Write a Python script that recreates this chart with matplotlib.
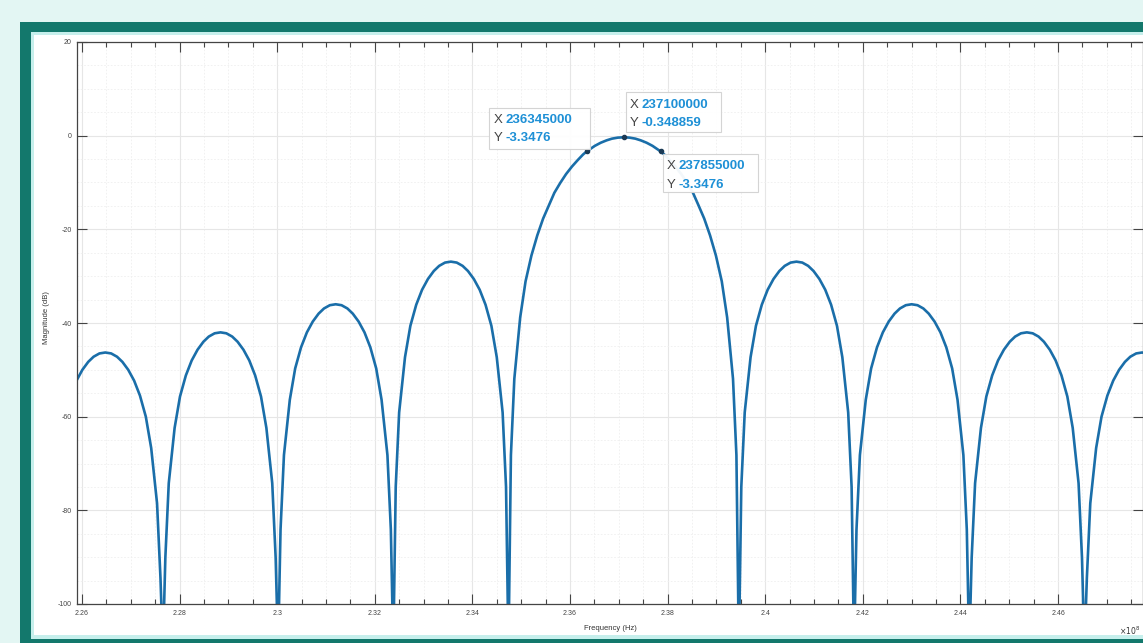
import numpy as np
import matplotlib.pyplot as plt
from matplotlib.patches import Rectangle
from matplotlib.transforms import Affine2D
from matplotlib.ticker import MultipleLocator, FuncFormatter

plt.rcParams['font.family'] = ['Liberation Sans', 'DejaVu Sans']

# trace: frequency in MHz, magnitude in dB (one row per lobe)
freq_mhz = [
    225.65, 225.77, 225.89, 226.01, 226.13, 226.24, 226.36, 226.48, 226.60, 226.72, 226.83, 226.95, 227.07, 227.19, 227.31, 227.42, 227.54, 227.61,
    227.66, 227.71, 227.78, 227.90, 228.01, 228.13, 228.25, 228.37, 228.49, 228.60, 228.72, 228.84, 228.96, 229.08, 229.19, 229.31, 229.43, 229.55, 229.67, 229.78, 229.90, 229.97,
    230.02, 230.07, 230.14, 230.26, 230.37, 230.49, 230.61, 230.73, 230.85, 230.96, 231.08, 231.20, 231.32, 231.44, 231.55, 231.67, 231.79, 231.91, 232.03, 232.14, 232.26, 232.33,
    232.38, 232.43, 232.50, 232.62, 232.73, 232.85, 232.97, 233.09, 233.21, 233.32, 233.44, 233.56, 233.68, 233.80, 233.91, 234.03, 234.15, 234.27, 234.39, 234.50, 234.62, 234.69,
    234.74, 234.79, 234.86, 234.98, 235.09, 235.21, 235.33, 235.45, 235.57, 235.68, 235.80, 235.92, 236.04, 236.16, 236.27, 236.345, 236.51, 236.63, 236.75, 236.86, 236.98,
    237.10,
    237.22, 237.34, 237.45, 237.57, 237.69, 237.855, 237.93, 238.04, 238.16, 238.28, 238.40, 238.52, 238.63, 238.75, 238.87, 238.99, 239.11, 239.22, 239.34, 239.41,
    239.46, 239.51, 239.58, 239.70, 239.81, 239.93, 240.05, 240.17, 240.29, 240.40, 240.52, 240.64, 240.76, 240.88, 240.99, 241.11, 241.23, 241.35, 241.47, 241.58, 241.70, 241.77,
    241.82, 241.87, 241.94, 242.06, 242.17, 242.29, 242.41, 242.53, 242.65, 242.76, 242.88, 243.00, 243.12, 243.24, 243.35, 243.47, 243.59, 243.71, 243.83, 243.94, 244.06, 244.13,
    244.18, 244.23, 244.30, 244.42, 244.53, 244.65, 244.77, 244.89, 245.01, 245.12, 245.24, 245.36, 245.48, 245.60, 245.71, 245.83, 245.95, 246.07, 246.19, 246.30, 246.42, 246.49,
    246.54, 246.59, 246.66, 246.78, 246.89, 247.01, 247.13, 247.25, 247.37, 247.48, 247.60, 247.72, 247.84,
]
mag_db = [
    -60.0, -55.5, -52.3, -50.0, -48.3, -47.2, -46.5, -46.3, -46.5, -47.2, -48.3, -50.0, -52.3, -55.5, -60.0, -66.7, -78.5, -94.4,
    -110, -90.1, -74.2, -62.4, -55.7, -51.2, -48.0, -45.7, -44.0, -42.9, -42.2, -42.0, -42.2, -42.9, -44.0, -45.7, -48.0, -51.2, -55.7, -62.4, -74.2, -90.1,
    -110, -84.1, -68.2, -56.4, -49.7, -45.2, -42.0, -39.7, -38.0, -36.9, -36.2, -36.0, -36.2, -36.9, -38.0, -39.7, -42.0, -45.2, -49.7, -56.4, -68.2, -84.1,
    -110, -75.0, -59.1, -47.3, -40.6, -36.1, -32.9, -30.6, -28.9, -27.8, -27.1, -26.9, -27.1, -27.8, -28.9, -30.6, -32.9, -36.1, -40.6, -47.3, -59.1, -75.0,
    -110, -68.2, -51.9, -38.8, -31.1, -25.6, -21.3, -17.7, -14.8, -12.2, -10.1, -8.2, -6.6, -5.2, -4.0, -3.3476, -2.17, -1.51, -1.00, -0.64, -0.42,
    -0.348859,
    -0.42, -0.64, -1.00, -1.51, -2.17, -3.3476, -4.0, -5.2, -6.6, -8.2, -10.1, -12.2, -14.8, -17.7, -21.3, -25.6, -31.1, -38.8, -51.9, -68.2,
    -110, -75.0, -59.1, -47.3, -40.6, -36.1, -32.9, -30.6, -28.9, -27.8, -27.1, -26.9, -27.1, -27.8, -28.9, -30.6, -32.9, -36.1, -40.6, -47.3, -59.1, -75.0,
    -110, -84.1, -68.2, -56.4, -49.7, -45.2, -42.0, -39.7, -38.0, -36.9, -36.2, -36.0, -36.2, -36.9, -38.0, -39.7, -42.0, -45.2, -49.7, -56.4, -68.2, -84.1,
    -110, -90.1, -74.2, -62.4, -55.7, -51.2, -48.0, -45.7, -44.0, -42.9, -42.2, -42.0, -42.2, -42.9, -44.0, -45.7, -48.0, -51.2, -55.7, -62.4, -74.2, -90.1,
    -110, -94.4, -78.5, -66.7, -60.0, -55.5, -52.3, -50.0, -48.3, -47.2, -46.5, -46.3, -46.5,
]
assert len(freq_mhz) == len(mag_db)

# data tips
tip_freq_hz = [236345000, 237100000, 237855000]
tip_mag_db = [-3.3476, -0.348859, -3.3476]
tip_x_text = ['236345000', '237100000', '237855000']
tip_y_text = ['-3.3476', '-0.348859', '-3.3476']

W, H = 1143, 643
fig = plt.figure(figsize=(W / 100, H / 100), dpi=100, facecolor='#e3f6f3')
px = Affine2D().scale(1, -1).translate(0, H)  # pixel coords, origin top-left

# teal frame around the figure window
fig.patches.append(Rectangle((20, 22), 1200, 700, transform=px, fc='#13786c', ec='none', zorder=-5))
fig.patches.append(Rectangle((31, 32), 1200, 607, transform=px, fc='#c6efec', ec='none', zorder=-4))
fig.patches.append(Rectangle((34, 35), 1200, 600, transform=px, fc='white', ec='none', zorder=-3))

ax = fig.add_axes([77 / W, (H - 604) / H, 1066 / W, 562 / H])
ax.plot(np.array(freq_mhz) * 1e6, mag_db, color='#1a6ea9', lw=1.9, solid_joinstyle='round')
ax.set_xlim(225.9e6, 247.74e6)
ax.set_ylim(-100, 20)

ax.xaxis.set_major_locator(MultipleLocator(2e6))
ax.xaxis.set_minor_locator(MultipleLocator(0.5e6))
ax.yaxis.set_major_locator(MultipleLocator(20))
ax.yaxis.set_minor_locator(MultipleLocator(5))
ax.xaxis.set_major_formatter(FuncFormatter(lambda v, p: f'{v / 1e8:g}'))
ax.yaxis.set_major_formatter(FuncFormatter(lambda v, p: f'{v:g}'))

ax.tick_params(which='both', direction='in', top=True, right=True, colors='#444444',
               labelsize=5, width=0.8)
ax.tick_params(which='major', length=7, pad=4)
ax.tick_params(axis='x', which='minor', length=3.5)
ax.tick_params(axis='y', which='minor', length=0)
ax.grid(which='major', color='#e6e6e6', lw=0.8)
ax.grid(which='minor', color='#efefef', lw=0.6, ls=(0, (2, 2)))
ax.set_axisbelow(True)
for s in ax.spines.values():
    s.set_color('#444444')
    s.set_linewidth(0.9)

fig.text(610, 628, 'Frequency (Hz)', transform=px, fontsize=5.5, color='#333333', ha='center', va='center')
fig.text(47, 318, 'Magnitude (dB)', transform=px, fontsize=5.5, color='#333333', ha='center',
         va='center', rotation=90)
fig.text(1140, 631, r'$\times10^{8}$', transform=px, fontsize=5.5, color='#333333', ha='right', va='center')

# data tip markers and boxes
ax.plot(tip_freq_hz, tip_mag_db, 'o', ms=3, color='#1b3a55', zorder=5)

# box offsets (left, top, width, height) and text offsets relative to the point, in pixels
tip_layout = [(-98, -43, 101, 41, -93, -31, -13),
              (2, -45, 95, 40, 6, -32, -14),
              (2, 3, 95, 38, 6, 15, 34)]
for f, m, xs, ys, (bx, by, bw, bh, tx, l1, l2) in zip(tip_freq_hz, tip_mag_db, tip_x_text, tip_y_text, tip_layout):
    dx, dy = ax.transData.transform((f, m))
    x0, y0 = dx, H - dy
    fig.patches.append(Rectangle((x0 + bx, y0 + by), bw, bh, transform=px, fc='white', ec='#d2d2d2',
                                 lw=0.8, alpha=0.95, zorder=6))
    fig.text(x0 + tx, y0 + l1, 'X', transform=px, fontsize=9.5, color='#444444', va='center', zorder=7)
    fig.text(x0 + tx + 12, y0 + l1, xs, transform=px, fontsize=9.5, color='#1e90d6', weight='bold',
             va='center', zorder=7)
    fig.text(x0 + tx, y0 + l2, 'Y', transform=px, fontsize=9.5, color='#444444', va='center', zorder=7)
    fig.text(x0 + tx + 12, y0 + l2, ys, transform=px, fontsize=9.5, color='#1e90d6', weight='bold',
             va='center', zorder=7)

fig.savefig('out.png', dpi=100, facecolor=fig.get_facecolor())
